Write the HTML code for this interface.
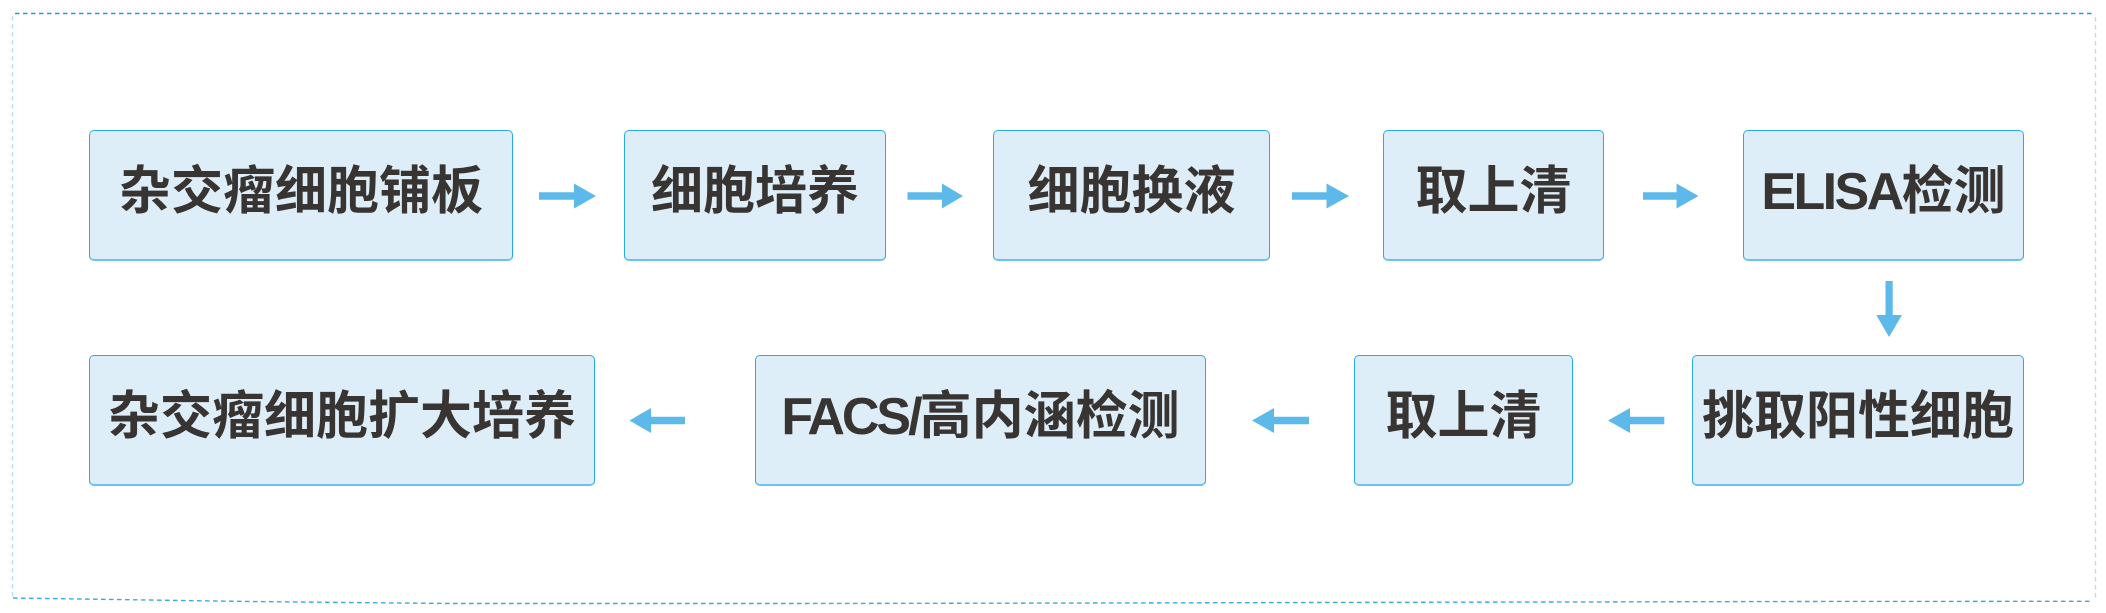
<!DOCTYPE html>
<html>
<head>
<meta charset="utf-8">
<style>
  html,body{margin:0;padding:0;background:#fff;}
  body{width:2106px;height:613px;position:relative;overflow:hidden;}
  .box{
    position:absolute;box-sizing:border-box;
    background:#deeef9;
    border:1.5px solid #2aaae4;
    border-bottom:2px solid #6cc2ec;
    border-radius:5px;
    display:flex;align-items:center;justify-content:center;
    padding-bottom:6px;
    font-family:"Liberation Sans","Noto Sans CJK SC",sans-serif;
    font-weight:bold;font-size:52px;line-height:52px;
    color:#383432;white-space:nowrap;
  }
  .lat{letter-spacing:-2.6px;}
  svg{position:absolute;left:0;top:0;}
</style>
</head>
<body>
<svg width="2106" height="613" viewBox="0 0 2106 613">
  <!-- dashed frame -->
  <line x1="15" y1="13.5" x2="2093" y2="13.5" stroke="#1c9ad6" stroke-width="1.4" stroke-dasharray="4.5 3.5"/>
  <line x1="12.5" y1="16" x2="12.5" y2="597" stroke="#b3e0f4" stroke-width="1.4" stroke-dasharray="4.5 3.5"/>
  <line x1="2095.5" y1="17" x2="2095.5" y2="600" stroke="#b3e0f4" stroke-width="1.4" stroke-dasharray="4.5 3.5"/>
  <polyline points="13,598 250,601.5 450,603.5 800,603.5 1100,603 1400,602.3 1800,601.5 2093,601.3" fill="none" stroke="#3aa8dc" stroke-width="1.4" stroke-dasharray="4.5 3.5"/>

  <g fill="#5db9ea">
    <!-- right arrows row 1 (center y 196) -->
    <polygon points="539,192.3 574,192.3 574,183.5 596,196 574,208.5 574,199.7 539,199.7"/>
    <polygon points="907.5,192.3 942,192.3 942,183.5 963,196 942,208.5 942,199.7 907.5,199.7"/>
    <polygon points="1292,192.3 1326.5,192.3 1326.5,183.5 1349,196 1326.5,208.5 1326.5,199.7 1292,199.7"/>
    <polygon points="1643,192.3 1676.5,192.3 1676.5,183.5 1698.5,196 1676.5,208.5 1676.5,199.7 1643,199.7"/>
    <!-- down arrow -->
    <polygon points="1885.5,281 1892.7,281 1892.7,315 1902,315 1889,337 1876.3,315 1885.5,315"/>
    <!-- left arrows row 2 (center y 420.5) -->
    <polygon points="1664.3,416.8 1630,416.8 1630,408 1608,420.5 1630,433 1630,424.2 1664.3,424.2"/>
    <polygon points="1309,416.8 1274,416.8 1274,408 1252,420.5 1274,433 1274,424.2 1309,424.2"/>
    <polygon points="685,416.8 651,416.8 651,408 629.5,420.5 651,433 651,424.2 685,424.2"/>
  </g>
</svg>

<!-- row 1 -->
<div class="box" style="left:89px;top:130px;width:424px;height:131px;">杂交瘤细胞铺板</div>
<div class="box" style="left:624px;top:130px;width:262px;height:131px;">细胞培养</div>
<div class="box" style="left:993px;top:130px;width:277px;height:131px;">细胞换液</div>
<div class="box" style="left:1383px;top:130px;width:221px;height:131px;">取上清</div>
<div class="box" style="left:1743px;top:130px;width:281px;height:131px;"><span class="lat">ELISA</span>检测</div>

<!-- row 2 -->
<div class="box" style="left:89px;top:355px;width:506px;height:131px;">杂交瘤细胞扩大培养</div>
<div class="box" style="left:755px;top:355px;width:451px;height:131px;"><span class="lat" style="letter-spacing:-3px;">FACS/</span>高内涵检测</div>
<div class="box" style="left:1354px;top:355px;width:219px;height:131px;">取上清</div>
<div class="box" style="left:1692px;top:355px;width:332px;height:131px;">挑取阳性细胞</div>
</body>
</html>
